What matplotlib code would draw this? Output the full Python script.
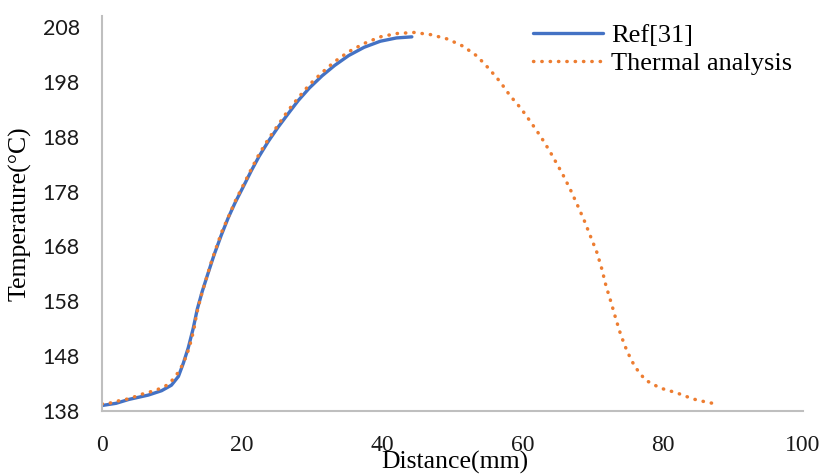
import matplotlib
matplotlib.use('Agg')
import matplotlib.pyplot as plt

# values
ref_x = [0, 2, 3.8, 6.6, 8.5, 9.9, 10.9, 11.6, 12.3, 13.0, 13.6, 14.3, 15.1, 16.0,
         17.0, 18.0, 19.0, 20.2, 21.3, 22.4, 23.7, 25.1, 26.8, 28.0, 29.6, 31.4,
         33.2, 35.2, 37.4, 39.7, 42.0, 44.2]
ref_y = [139.0, 139.4, 140.1, 140.9, 141.7, 142.7, 144.3, 146.7, 149.5, 153.0, 156.6,
         159.8, 163.0, 166.5, 170.0, 173.2, 176.0, 179.0, 181.8, 184.4, 187.1, 189.7,
         192.6, 194.6, 196.9, 199.1, 201.0, 202.8, 204.3, 205.4, 206.0, 206.2]

thermal_x = [0, 1.4, 2.5, 3.7, 4.9, 6.0, 7.2, 8.3, 9.4, 10.3, 11.0, 11.6, 12.1, 12.5,
             12.8, 13.1, 13.5, 14.1, 14.8, 15.5, 16.3, 17.1, 18.1, 19.1, 20.2, 21.3,
             22.4, 23.7, 25.1, 26.5, 28.0, 29.6, 31.4, 33.2, 35.2, 37.4, 39.7, 42.0,
             44.5, 46.9, 49.3, 51.5, 53.5, 55.2, 56.8, 58.2, 59.8, 61.2, 62.6, 63.9,
             65.7, 66.8, 67.8, 68.8, 69.7, 70.6, 71.3, 71.9, 72.6, 73.3, 74.0, 74.9,
             76.0, 77.5, 79.6, 82.0, 84.3, 86.6, 87.9]
thermal_y = [139.3, 139.5, 139.9, 140.2, 140.7, 141.2, 141.6, 142.1, 142.8, 144.0, 145.3,
             146.7, 148.3, 149.8, 151.3, 152.8, 155.7, 158.8, 161.8, 164.8, 167.8, 170.7,
             173.6, 176.5, 179.3, 182.1, 184.8, 187.5, 190.1, 192.7, 195.1, 197.5, 199.7,
             201.7, 203.5, 205.0, 206.2, 206.8, 207.0, 206.6, 205.8, 204.5, 202.7, 200.4,
             198.0, 195.5, 193.1, 190.6, 188.0, 185.3, 181.2, 178.4, 175.6, 172.7, 169.8,
             166.9, 163.9, 160.8, 157.9, 154.8, 151.9, 148.9, 146.1, 143.65, 142.2, 141.3,
             140.2, 139.5, 139.3]

x_ticks = [0, 20, 40, 60, 80, 100]
y_ticks = [138, 148, 158, 168, 178, 188, 198, 208]

serif = 'Liberation Serif'

fig = plt.figure(figsize=(8.32, 4.74), dpi=100)
ax = fig.add_axes([102 / 832, 1 - 411 / 474, 701 / 832, 395 / 474])

ax.plot(ref_x, ref_y, color='#4472C4', lw=2.4, solid_capstyle='round',
        solid_joinstyle='round', label='Ref[31]')
ax.plot(thermal_x, thermal_y, color='#ED7D31', lw=2.5, linestyle=(0, (0.1, 2.3)),
        dash_capstyle='round', label='Thermal analysis')

ax.set_xlim(0, 100)
ax.set_ylim(138, 210)
ax.set_xticks(x_ticks)
ax.set_yticks(y_ticks)
ax.set_xticklabels([str(t) for t in x_ticks], fontfamily=serif, fontsize=17)
ax.set_yticklabels([str(t) for t in y_ticks], fontfamily='Lato', fontsize=15.5)
ax.tick_params(axis='both', length=0, colors='#1a1a1a')
ax.tick_params(axis='x', pad=17)
ax.tick_params(axis='y', pad=16)

for s in ['top', 'right']:
    ax.spines[s].set_visible(False)
for s in ['left', 'bottom']:
    ax.spines[s].set_color('#bfbfbf')
    ax.spines[s].set_linewidth(1.5)

fig.text(455 / 832, 1 - 462 / 474, 'Distance(mm)', ha='center', va='center',
         fontfamily=serif, fontsize=18.5)
fig.text(20 / 832, 1 - 214 / 474, 'Temperature(°C)', ha='center', va='center',
         rotation=90, fontfamily=serif, fontsize=18.5)

ax.legend(loc='upper left', bbox_to_anchor=(533 / 832, 1 - 24 / 474),
          bbox_transform=fig.transFigure, frameon=False, borderpad=0,
          borderaxespad=0, handlelength=2.65, handletextpad=0.3, labelspacing=0.15,
          prop={'family': serif, 'size': 19})

fig.savefig('out.png', dpi=100)
